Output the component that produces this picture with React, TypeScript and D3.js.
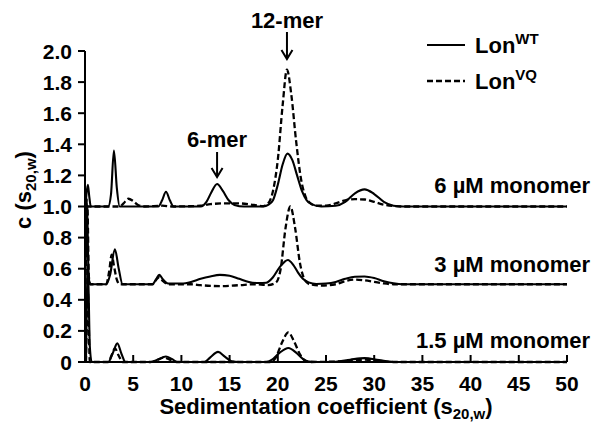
import React from "react";
import * as d3 from "d3";

type Pt = [number, number];

// Raw c(s) values (without vertical offset)
const wt6: Pt[] = [[0.05,0],[0.15,0.08],[0.3,0.14],[0.45,0.06],[0.6,0],[2.4,0],[2.7,0.08],[3.0,0.36],[3.3,0.12],[3.6,0],[7.6,0],[8.0,0.04],[8.4,0.095],[8.8,0.04],[9.2,0],[12.0,0],[12.6,0.03],[13.1,0.09],[13.7,0.145],[14.3,0.1],[14.9,0.04],[15.5,0.01],[16.5,0],[18.5,0],[19.0,0.01],[19.5,0.04],[20.0,0.14],[20.5,0.27],[21.0,0.34],[21.5,0.3],[22.0,0.2],[22.5,0.1],[23.0,0.04],[23.5,0.015],[24.5,0],[26,0.005],[27,0.03],[28,0.085],[29,0.11],[30,0.08],[31,0.03],[32,0.005],[33,0],[50,0]];
const vq6: Pt[] = [[0.05,0],[3.6,0],[4.0,0.02],[4.5,0.05],[5.0,0.035],[5.5,0.01],[6.2,0],[8,0.005],[9,0],[12,0.005],[13,0.015],[14.5,0.02],[16,0.02],[17.5,0.01],[18.5,0.003],[19.0,0.02],[19.5,0.1],[20.0,0.3],[20.5,0.65],[20.95,0.88],[21.4,0.72],[21.9,0.42],[22.4,0.18],[22.9,0.06],[23.4,0.02],[24,0.005],[25,0.005],[26,0.02],[27,0.04],[28,0.047],[29,0.045],[30,0.03],[31,0.012],[32,0.003],[33,0],[50,0]];
const wt3: Pt[] = [[0.05,0],[0.2,0.55],[0.35,0.1],[0.5,0],[2.2,0],[2.6,0.06],[3.1,0.224],[3.5,0.1],[3.9,0],[7.0,0],[7.4,0.035],[7.7,0.06],[8.1,0.03],[8.6,0.005],[10,0.005],[11,0.015],[12,0.035],[13,0.05],[14,0.06],[15,0.055],[16,0.035],[17,0.015],[18,0.008],[18.8,0.01],[19.5,0.045],[20.2,0.11],[21.05,0.156],[21.6,0.125],[22.1,0.075],[22.6,0.035],[23.2,0.012],[24,0.002],[25,0.005],[26,0.015],[27,0.035],[28,0.048],[29,0.05],[30,0.04],[31,0.02],[32,0.006],[33,0],[50,0]];
const vq3: Pt[] = [[0.05,0],[0.25,0.5],[0.4,0.05],[0.55,0],[2.2,0],[2.5,0.08],[2.77,0.19],[3.0,0.12],[3.3,0.03],[3.6,0],[7.0,0],[7.4,0.03],[7.7,0.045],[8.1,0.02],[8.6,0],[11,0],[12,-0.006],[14,-0.012],[16,-0.006],[17.5,0],[19,-0.005],[19.8,0.01],[20.3,0.1],[20.8,0.36],[21.3,0.5],[21.8,0.36],[22.3,0.136],[22.8,0.027],[23.3,0.0],[24.5,-0.008],[26,0],[27,0.02],[28,0.03],[29,0.025],[30,0.015],[31,0.005],[32,0],[50,0]];
const wt15: Pt[] = [[0.1,0],[0.3,0.62],[0.5,0.1],[0.7,0],[2.4,0],[2.9,0.06],[3.35,0.12],[3.8,0.05],[4.2,0],[6.8,0],[7.5,0.015],[8.4,0.035],[9.0,0.02],[9.6,0],[12.4,0],[13.0,0.03],[13.8,0.065],[14.5,0.035],[15.2,0.005],[16,0],[18.8,0],[19.4,0.015],[20.2,0.06],[21.1,0.09],[21.9,0.06],[22.6,0.02],[23.2,0.003],[24,0],[26,0.002],[27.5,0.015],[29,0.025],[30.5,0.012],[32,0],[50,0]];
const vq15: Pt[] = [[0.1,0],[0.3,0.45],[0.5,0],[2.4,0],[2.8,0.05],[3.1,0.088],[3.5,0.04],[3.9,0],[6.8,0],[7.6,0.015],[8.2,0.028],[8.9,0.012],[9.5,0],[19.3,0],[19.8,0.03],[20.4,0.12],[21.1,0.19],[21.7,0.13],[22.3,0.05],[22.8,0.01],[23.3,0],[27,0.005],[29,0.015],[31,0.004],[32,0],[50,0]];

const offsets = [1.0, 0.5, 0];
const seriesLabels = ["6 \u00b5M monomer", "3 \u00b5M monomer", "1.5 \u00b5M monomer"];
const wtSeries = [wt6, wt3, wt15];
const vqSeries = [vq6, vq3, vq15];

const xTicks = [0, 5, 10, 15, 20, 25, 30, 35, 40, 45, 50];
const yTicks = [0, 0.2, 0.4, 0.6, 0.8, 1.0, 1.2, 1.4, 1.6, 1.8, 2.0];

const annotations = [
  { label: "12-mer", s: 20.95 },
  { label: "6-mer", s: 13.7 },
];

const FONT = "'Liberation Sans', Arial, Helvetica, sans-serif";

export default function App() {
  const x = d3.scaleLinear().domain([0, 50]).range([85, 567]);
  const y = d3.scaleLinear().domain([0, 2]).range([362, 51]);

  const mkLine = (off: number) =>
    d3
      .line<Pt>()
      .x((d) => x(d[0]))
      .y((d) => y(d[1] + off))
      .curve(d3.curveMonotoneX);

  const annY = [
    { textY: 28, a0: 32, a1: 59 },
    { textY: 147, a0: 152, a1: 177 },
  ];

  return (
    <svg
      width={600}
      height={425}
      style={{ position: "absolute", left: 0, top: 0, background: "#fff" }}
      fontFamily={FONT}
      fontWeight="bold"
    >
      <rect width={600} height={425} fill="#fff" />
      {/* curves */}
      {offsets.map((off, i) => (
        <g key={i}>
          <path d={mkLine(off)(vqSeries[i]) || ""} fill="none" stroke="#000" strokeWidth={2.3} strokeDasharray="6,3" />
          <path d={mkLine(off)(wtSeries[i]) || ""} fill="none" stroke="#000" strokeWidth={2.1} />
          <text x={590} y={[193, 272, 348][i]} textAnchor="end" fontSize={22}>
            {seriesLabels[i]}
          </text>
        </g>
      ))}

      {/* axes */}
      <line x1={x(0)} x2={x(50)} y1={y(0)} y2={y(0)} stroke="#000" strokeWidth={2} />
      <line x1={x(0)} x2={x(0)} y1={y(0) + 1} y2={y(2)} stroke="#000" strokeWidth={2} />
      {yTicks.map((t) => (
        <g key={"y" + t}>
          <line x1={x(0) - 7} x2={x(0)} y1={y(t)} y2={y(t)} stroke="#000" strokeWidth={2} />
          <text x={72} y={y(t) + 7.5} textAnchor="end" fontSize={21}>
            {t === 0 ? "0" : d3.format(".1f")(t)}
          </text>
        </g>
      ))}
      {xTicks.map((t) => (
        <g key={"x" + t}>
          <line x1={x(t)} x2={x(t)} y1={y(0)} y2={y(0) - 7} stroke="#000" strokeWidth={2} />
          <text x={x(t)} y={391} textAnchor="middle" fontSize={21}>
            {t}
          </text>
        </g>
      ))}

      {/* axis titles */}
      <text x={326} y={414} textAnchor="middle" fontSize={22}>
        Sedimentation coefficient (s
        <tspan fontSize={15} dy={5}>20,w</tspan>
        <tspan dy={-5}>)</tspan>
      </text>
      <text transform="translate(31,190) rotate(-90)" textAnchor="middle" fontSize={22}>
        c (s
        <tspan fontSize={15} dy={5}>20,w</tspan>
        <tspan dy={-5}>)</tspan>
      </text>

      {/* annotations */}
      {annotations.map((a, i) => (
        <g key={a.label}>
          <text x={x(a.s)} y={annY[i].textY} textAnchor="middle" fontSize={22}>
            {a.label}
          </text>
          <line x1={x(a.s)} x2={x(a.s)} y1={annY[i].a0} y2={annY[i].a1 - 2} stroke="#000" strokeWidth={2} />
          <path
            d={`M${x(a.s) - 5.5},${annY[i].a1 - 9} L${x(a.s)},${annY[i].a1} L${x(a.s) + 5.5},${annY[i].a1 - 9}`}
            fill="none"
            stroke="#000"
            strokeWidth={2}
          />
        </g>
      ))}

      {/* legend */}
      <line x1={427} x2={465} y1={45} y2={45} stroke="#000" strokeWidth={2.1} />
      <text x={475} y={53} fontSize={22}>
        Lon<tspan fontSize={15} dy={-9}>WT</tspan>
      </text>
      <line x1={427} x2={465} y1={81} y2={81} stroke="#000" strokeWidth={2.3} strokeDasharray="6,3" />
      <text x={475} y={89} fontSize={22}>
        Lon<tspan fontSize={15} dy={-9}>VQ</tspan>
      </text>
    </svg>
  );
}
